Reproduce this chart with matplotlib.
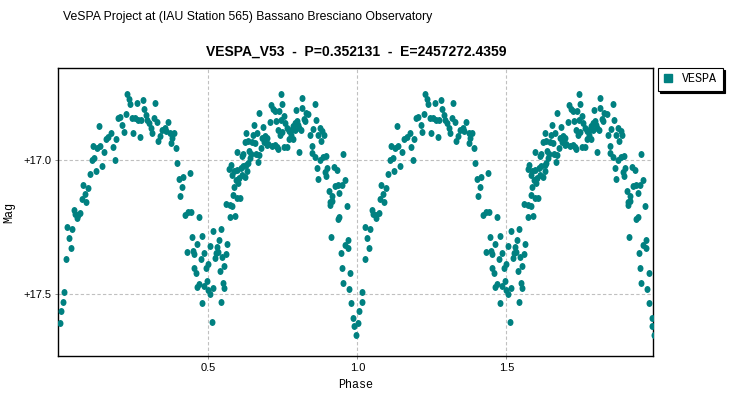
import numpy as np
import matplotlib
matplotlib.use('Agg')
import matplotlib.pyplot as plt
from matplotlib.path import Path
from matplotlib.lines import Line2D

# Данные фазовой кривой (одна фаза 0..1, на графике повторяется дважды)
ph_rise = [0.003, 0.007, 0.014, 0.017, 0.024, 0.040, 0.034, 0.027, 0.044, 0.050,
           0.054, 0.061, 0.064, 0.071, 0.077, 0.091, 0.087, 0.097, 0.081, 0.104,
           0.108, 0.118, 0.124, 0.144, 0.114, 0.128, 0.138, 0.151, 0.155, 0.165,
           0.175, 0.181, 0.188, 0.191, 0.134, 0.198, 0.205, 0.212, 0.218, 0.225,
           0.228, 0.235, 0.238, 0.245, 0.246]
mag_rise = [17.607, 17.561, 17.529, 17.490, 17.367, 17.327, 17.290, 17.248, 17.256, 17.184,
            17.200, 17.215, 17.203, 17.197, 17.143, 17.154, 17.124, 17.102, 17.091, 17.051,
            16.999, 16.991, 17.040, 17.020, 16.947, 16.953, 16.947, 16.968, 16.920, 16.914,
            16.900, 16.949, 16.998, 16.919, 16.871, 16.842, 16.838, 16.867, 16.893, 16.826,
            16.754, 16.771, 16.789, 16.842, 16.898]

ph_fall = [0.262, 0.282, 0.322, 0.285, 0.255, 0.265, 0.275, 0.292, 0.295, 0.302,
           0.309, 0.312, 0.319, 0.329, 0.272, 0.332, 0.339, 0.346, 0.356, 0.359,
           0.366, 0.373, 0.379, 0.386, 0.376, 0.393, 0.396, 0.403, 0.416, 0.440,
           0.413, 0.406]
mag_fall = [16.785, 16.777, 16.785, 16.807, 16.842, 16.851, 16.848, 16.833, 16.851, 16.861,
            16.879, 16.898, 16.842, 16.858, 16.915, 16.930, 16.908, 16.887, 16.879, 16.892,
            16.858, 16.897, 16.917, 16.897, 16.935, 16.954, 17.010, 17.068, 17.061, 17.047,
            17.098, 17.132]

ph_min2 = [0.423, 0.433, 0.441, 0.470, 0.446, 0.480, 0.517, 0.543, 0.463, 0.507,
           0.528, 0.535, 0.564, 0.430, 0.450, 0.453, 0.487, 0.525, 0.532, 0.523,
           0.547, 0.560, 0.475, 0.498, 0.491, 0.554, 0.540, 0.453, 0.459, 0.462,
           0.469, 0.487, 0.497, 0.500, 0.507, 0.517, 0.550, 0.554, 0.480, 0.544,
           0.513, 0.560, 0.573, 0.581, 0.574, 0.591]
mag_min2 = [17.203, 17.194, 17.192, 17.210, 17.285, 17.281, 17.262, 17.256, 17.313, 17.321,
            17.322, 17.297, 17.313, 17.341, 17.337, 17.351, 17.345, 17.347, 17.341, 17.366,
            17.362, 17.351, 17.369, 17.387, 17.403, 17.393, 17.412, 17.403, 17.419, 17.471,
            17.461, 17.469, 17.449, 17.484, 17.499, 17.476, 17.459, 17.476, 17.531, 17.527,
            17.602, 17.163, 17.167, 17.170, 17.210, 17.207]

ph_rise2 = [0.584, 0.597, 0.607, 0.587, 0.601, 0.594, 0.604, 0.581, 0.587, 0.571,
            0.577, 0.597, 0.611, 0.614, 0.624, 0.631, 0.617, 0.628, 0.634, 0.641,
            0.638, 0.644, 0.597, 0.614, 0.617, 0.668, 0.661, 0.671, 0.624, 0.634,
            0.648, 0.658, 0.651, 0.664, 0.628, 0.654, 0.671, 0.678, 0.681, 0.691,
            0.698, 0.701, 0.686, 0.696, 0.714, 0.724, 0.734, 0.731, 0.684, 0.707,
            0.727, 0.710, 0.717, 0.724, 0.737, 0.744, 0.734, 0.741, 0.747, 0.747,
            0.744]
mag_rise2 = [17.128, 17.139, 17.139, 17.098, 17.085, 17.072, 17.066, 17.056, 17.041, 17.032,
             17.016, 17.035, 17.029, 17.056, 17.061, 17.039, 17.022, 17.016, 17.010, 16.991,
             16.964, 16.976, 16.971, 16.985, 16.976, 17.006, 16.976, 16.981, 16.933, 16.929,
             16.933, 16.935, 16.904, 16.900, 16.897, 16.867, 16.822, 16.954, 16.917, 16.910,
             16.917, 16.939, 16.932, 16.942, 16.948, 16.944, 16.958, 16.951, 16.876, 16.856,
             16.852, 16.795, 16.807, 16.817, 16.817, 16.848, 16.886, 16.904, 16.894, 16.792,
             16.751]

ph_fall2 = [0.815, 0.859, 0.795, 0.815, 0.829, 0.836, 0.822, 0.862, 0.754, 0.757,
            0.764, 0.771, 0.778, 0.784, 0.791, 0.798, 0.801, 0.804, 0.811, 0.791,
            0.778, 0.784, 0.771, 0.754, 0.764, 0.803, 0.825, 0.840, 0.852, 0.869,
            0.876, 0.883, 0.889, 0.879, 0.849, 0.849, 0.859, 0.876, 0.886, 0.896,
            0.953, 0.866, 0.869, 0.899, 0.893, 0.896, 0.923, 0.933, 0.960, 0.950,
            0.936, 0.926, 0.940, 0.906, 0.916, 0.916, 0.909, 0.909, 0.966, 0.940,
            0.936, 0.913, 0.970, 0.959, 0.970, 0.944, 0.950, 0.977, 0.953, 0.973,
            0.980, 0.987, 0.990, 0.997]
mag_fall2 = [16.766, 16.792, 16.811, 16.805, 16.823, 16.827, 16.845, 16.850, 16.836, 16.861,
             16.879, 16.892, 16.886, 16.873, 16.861, 16.854, 16.867, 16.879, 16.886, 16.886,
             16.904, 16.919, 16.919, 16.949, 16.949, 16.971, 16.854, 16.904, 16.882, 16.904,
             16.879, 16.892, 16.904, 16.927, 16.945, 16.973, 16.986, 16.999, 16.986, 16.983,
             16.976, 17.027, 17.068, 17.029, 17.044, 17.060, 17.026, 17.035, 17.072, 17.091,
             17.091, 17.097, 17.122, 17.113, 17.134, 17.153, 17.155, 17.168, 17.169, 17.211,
             17.219, 17.285, 17.297, 17.316, 17.326, 17.346, 17.402, 17.420, 17.457, 17.480,
             17.531, 17.588, 17.619, 17.653]

phase = np.array(ph_rise + ph_fall + ph_min2 + ph_rise2 + ph_fall2)
mag = np.array(mag_rise + mag_fall + mag_min2 + mag_rise2 + mag_fall2)

title = 'VESPA_V53  -  P=0.352131  -  E=2457272.4359'
caption = 'VeSPA Project at (IAU Station 565) Bassano Bresciano Observatory'
teal = '#008080'

# эллиптический маркер (как в JFreeChart)
circ = Path.unit_circle()
dot = Path(circ.vertices * np.array([0.86, 1.0]), circ.codes)

W, H = 741, 399
fig = plt.figure(figsize=(W / 100, H / 100), dpi=100)
ax = fig.add_axes([58.3 / W, 1 - 356 / H, (653.3 - 58.3) / W, (356 - 68.3) / H])

for k in range(2):
    ax.scatter(phase + k, mag, s=25, marker=dot, color=teal, linewidths=0, zorder=3)

ax.set_xlim(-0.0034, 1.993)
ax.set_ylim(17.730, 16.657)
ax.set_xticks([0.5, 1.0, 1.5])
ax.set_xticklabels(['0.5', '1.0', '1.5'])
ax.set_yticks([17.0, 17.5])
ax.set_yticklabels(['+17.0', '+17.5'])
ax.grid(True, color='#c0c0c0', linestyle=(0, (3, 2)), linewidth=0.8)
ax.tick_params(length=2, width=0.6, color='#808080', labelsize=8, pad=3)
for lab in ax.get_xticklabels() + ax.get_yticklabels():
    lab.set_fontfamily('Liberation Sans')
for sp in ax.spines.values():
    sp.set_linewidth(1.0)
    sp.set_color('black')

ax.set_xlabel('Phase', fontfamily='Liberation Mono', fontsize=8.5, labelpad=4)
ax.set_ylabel('Mag', fontfamily='Liberation Mono', fontsize=8.5, labelpad=6)

fig.text(63 / W, 1 - 17 / H, caption, fontfamily='Liberation Sans', fontsize=8.8,
         va='center', ha='left')
fig.text(356 / W, 1 - 52 / H, title, fontfamily='Liberation Sans', fontweight='bold',
         fontsize=10, va='center', ha='center')

h = Line2D([], [], linestyle='none', marker='s', markersize=6, color=teal)
leg = fig.legend([h], ['VESPA'], loc='upper left', bbox_to_anchor=(658 / W, 1 - 68 / H),
                 bbox_transform=fig.transFigure, borderaxespad=0, fancybox=False,
                 edgecolor='black', framealpha=1, handlelength=0.8, handletextpad=0.8,
                 borderpad=0.45, prop={'family': 'Liberation Mono', 'size': 8.5},
                 shadow={'color': 'black', 'alpha': 1, 'ox': 1.5, 'oy': -1.5})
leg.get_frame().set_linewidth(0.8)

fig.savefig('out.png', dpi=100)
